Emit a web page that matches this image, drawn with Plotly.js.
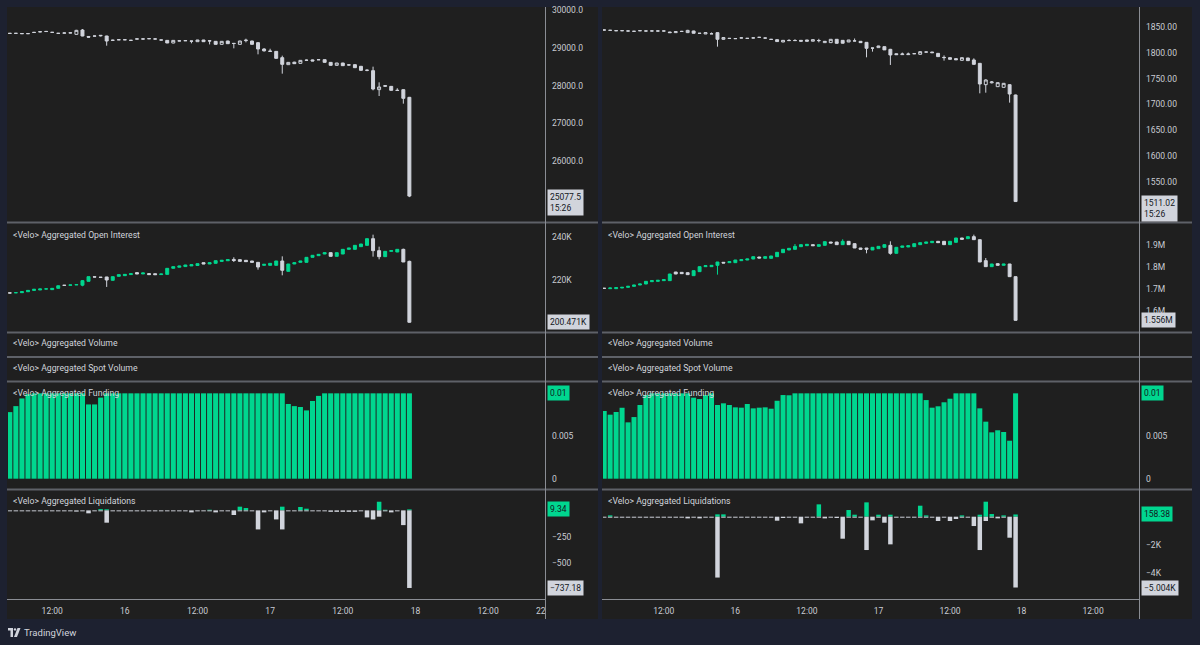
<!DOCTYPE html>
<html><head><meta charset="utf-8">
<script src="https://cdn.plot.ly/plotly-3.0.1.min.js"></script>
<style>html,body{margin:0;padding:0;background:#1d2130;}#chart{width:1200px;height:645px;}</style>
</head><body><div id="chart"></div>
<script>
// ---------- DATA ----------
const hourStartL = 5, hourStartR = 2; // hourly bars, hours counted from 15 00:00
const tickHoursL = [12, 24, 36, 48, 60, 72, 84, 92.7];
const tickTextL = ['12:00', '16', '12:00', '17', '12:00', '18', '12:00', '22'];
const tickHoursR = [12, 24, 36, 48, 60, 72, 84];
const tickTextR = ['12:00', '16', '12:00', '17', '12:00', '18', '12:00'];

const priceTicksL = [26000, 27000, 28000, 29000, 30000];
const priceTicksR = [1550, 1600, 1650, 1700, 1750, 1800, 1850];
const oiTicksL = [220, 240], oiTickTextL = ['220K', '240K'];
const oiTicksR = [1.6, 1.7, 1.8, 1.9], oiTickTextR = ['1.6M', '1.7M', '1.8M', '1.9M'];
const fundTicks = [0, 0.005], fundTickText = ['0', '0.005'];
const liqTicksL = [-250, -500], liqTickTextL = ['−250', '−500'];
const liqTicksR = [-2000, -4000], liqTickTextR = ['−2K', '−4K'];

// Left: BTC price
const priceOpenL = [29385,29382,29378,29374,29404,29420,29430,29410,29384,29388,29392,29356,29471,29300,29312,29316,29312,29196,29210,29214,29196,29230,29236,29240,29232,29204,29197,29127,29180,29186,29180,29162,29206,29186,29171,29092,29180,29118,29092,29190,29180,29136,28968,28915,28906,28739,28554,28620,28589,28668,28680,28686,28686,28615,28536,28598,28545,28554,28510,28404,28395,27893,27980,27980,27870,27892,27690];
const priceHighL = [29392,29388,29384,29380,29420,29440,29446,29416,29390,29402,29410,29475,29497,29312,29318,29334,29318,29215,29218,29220,29202,29246,29242,29246,29248,29210,29200,29200,29195,29200,29184,29210,29210,29206,29176,29176,29186,29122,29185,29241,29186,29150,28990,28975,28912,28792,28620,28630,28675,28690,28690,28690,28690,28620,28600,28602,28570,28560,28520,28430,28501,28086,28010,27990,27930,27900,27700];
const priceLowL = [29378,29376,29370,29368,29396,29412,29428,29404,29378,29386,29390,29350,29305,29270,29306,29300,29056,29180,29206,29208,29190,29228,29230,29236,29228,29200,29125,29120,29178,29184,29118,29158,29158,29090,29088,29088,29105,28986,29088,29144,29088,28827,28900,28890,28715,28316,28548,28575,28585,28650,28648,28680,28610,28530,28530,28520,28530,28470,28390,28380,27875,27725,27975,27870,27865,27522,25050];
const priceCloseL = [29380,29383,29374,29376,29408,29426,29433,29408,29382,29392,29396,29462,29312,29282,29310,29328,29180,29200,29214,29212,29198,29236,29232,29242,29234,29208,29127,29197,29184,29190,29176,29206,29162,29182,29092,29171,29109,29114,29180,29200,29092,28968,28920,28906,28721,28562,28615,28580,28668,28672,28651,28684,28615,28536,28598,28527,28548,28474,28404,28406,27910,27963,27998,27875,27875,27663,25077.5];

// Left: open interest (thousands)
const oiOpenL = [214.05,214.1,214.15,214.6,215.2,215.4,215.85,215.55,216.15,217.58,217.6,217.75,217.6,219.4,221.45,221.3,221.4,219.85,221.7,222.0,222.5,223.4,222.8,222.95,222.9,222.5,222.6,225.4,225.9,226.2,226.5,226.7,228.0,227.4,227.7,228.6,228.9,229.5,229.4,229.09,228.78,228.16,226.78,226.78,226.78,228.78,224.0,227.4,228.16,228.16,230.47,231.24,232.01,232.63,230.93,232.01,234.17,234.17,235.4,236.0,239.09,233.55,230.78,233.24,232.93,234.17,228.62];
const oiHighL = [214.1,214.2,214.65,215.25,215.75,215.9,215.95,216.2,217.4,217.62,217.75,217.9,220.0,221.55,221.5,221.35,221.45,221.6,222.5,222.65,222.95,223.6,223.3,223.0,222.95,222.8,225.4,226.2,226.5,227.0,227.1,227.6,228.05,228.05,228.95,229.1,229.4,230.5,229.45,229.1,228.8,228.2,227.25,227.7,228.8,230.93,227.4,228.05,228.8,230.5,231.4,231.9,232.65,232.65,232.65,234.2,234.8,236.05,236.65,239.1,240.94,235.4,233.3,233.6,234.2,234.47,228.9];
const oiLowL = [213.95,214.05,214.1,214.55,215.15,215.35,215.8,215.5,216.1,217.5,217.55,217.7,217.1,219.35,221.35,221.2,216.8,219.8,221.65,221.95,222.45,222.75,222.75,222.45,222.45,222.45,222.55,225.35,225.85,226.15,226.45,226.65,227.35,227.35,227.65,228.55,228.85,228.3,228.6,228.45,228.15,224.77,226.7,226.75,226.75,222.16,223.95,227.35,228.1,228.1,230.45,231.2,231.95,230.9,230.9,231.95,234.1,234.1,235.35,235.95,230.78,229.55,230.75,233.2,232.9,228.3,200.3];
const oiCloseL = [214.0,214.15,214.6,215.2,215.7,215.85,215.9,216.15,217.35,217.52,217.7,217.85,219.7,221.54,221.38,221.22,220.0,221.54,222.47,222.6,222.9,222.8,223.24,222.5,222.47,222.77,225.39,226.16,226.47,226.93,227.08,227.55,227.4,228.0,228.93,229.09,229.39,229.0,228.62,228.47,228.16,226.0,227.24,227.7,228.78,224.47,227.39,228.01,228.78,230.47,231.4,231.86,232.63,230.93,232.63,234.17,234.78,236.01,236.63,239.09,233.55,230.78,233.24,233.55,234.17,228.32,200.471];

// Left: funding
const fundingL = [0.0078,0.0085,0.0094,0.0099,0.01,0.01,0.01,0.01,0.01,0.01,0.01,0.01,0.01,0.0087,0.0087,0.0095,0.01,0.01,0.01,0.01,0.01,0.01,0.01,0.01,0.01,0.01,0.01,0.01,0.01,0.01,0.01,0.01,0.01,0.01,0.01,0.01,0.01,0.01,0.01,0.01,0.01,0.01,0.01,0.01,0.01,0.01,0.00875,0.0085,0.0084,0.0080,0.0091,0.0097,0.01,0.01,0.01,0.01,0.01,0.01,0.01,0.01,0.01,0.01,0.01,0.01,0.01,0.01,0.01];

// Left: liquidations (longs negative, shorts positive)
const liqPosL = [0,0,0,0,0,0,0,0,0,0,0,0,0,0,0,12,10,0,0,0,0,0,0,0,0,0,0,0,0,0,0,0,0,6,0,0,0,0,35,22,0,0,0,0,0,35,0,0,32,16,0,0,0,0,0,0,0,0,0,0,0,82,6,0,0,0,9.34];
const liqNegL = [-9,-9,-9,-9,-9,-9,-9,-9,-9,-9,-9,-12,-9,-28,-9,-9,-117,-9,-9,-9,-9,-9,-9,-9,-9,-9,-9,-9,-9,-9,-19,-9,-9,-9,-19,-9,-9,-44,-9,-9,-9,-181,-19,-9,-86,-181,-9,-9,-9,-9,-9,-9,-9,-14,-14,-14,-14,-14,-9,-67,-86,-60,-9,-19,-9,-140,-737.18];

// Right: ETH price
const priceOpenR = [1844.8,1844.2,1843.5,1843.3,1842.9,1842.3,1843.2,1842.9,1842.8,1842.9,1842.7,1840.8,1839.6,1841.8,1839.6,1842.8,1838.4,1837.0,1837.2,1839.6,1826.6,1828.5,1827.9,1829.2,1828.5,1829.2,1830.5,1829.2,1826.6,1825.9,1821.4,1824.0,1824.0,1824.6,1825.3,1822.9,1824.0,1820.1,1820.1,1826.6,1824.6,1821.4,1823.3,1822.7,1820.7,1809.7,1810.4,1812.3,1807.1,1798.5,1796.8,1796.8,1798.7,1797.4,1801.9,1801.9,1799.3,1791.5,1790.9,1789.0,1785.7,1790.3,1786.4,1779.9,1738.4,1742.0,1734.5,1733.2,1738.4,1718.3];
const priceHighR = [1845.2,1844.6,1843.9,1843.7,1843.2,1842.6,1844.2,1843.3,1843.2,1843.3,1843.1,1841.0,1841.7,1843.0,1845.0,1843.2,1838.8,1839.8,1839.8,1840.0,1830.5,1829.0,1828.3,1830.2,1828.9,1829.6,1830.8,1829.6,1827.0,1826.3,1824.8,1826.8,1826.8,1824.8,1825.5,1826.0,1827.6,1822.9,1826.8,1827.0,1824.8,1825.4,1828.2,1823.0,1821.0,1810.0,1814.0,1812.6,1808.0,1799.0,1800.8,1800.8,1799.0,1802.8,1802.2,1802.0,1799.6,1795.3,1791.2,1789.3,1791.0,1790.6,1789.6,1780.2,1748.8,1745.5,1742.5,1741.5,1738.8,1719.0];
const priceLowR = [1844.4,1843.8,1843.0,1842.9,1842.5,1841.9,1843.1,1842.5,1842.5,1842.5,1842.4,1839.4,1839.3,1841.6,1838.8,1838.1,1838.0,1836.8,1837.0,1812.3,1826.0,1828.0,1827.5,1829.0,1828.1,1828.8,1830.2,1828.8,1826.2,1822.0,1821.0,1823.8,1823.8,1822.7,1822.7,1822.7,1820.7,1819.9,1819.9,1818.6,1818.8,1821.2,1823.0,1820.0,1791.6,1802.6,1810.2,1805.8,1776.7,1796.6,1796.6,1796.6,1798.4,1797.2,1801.6,1800.4,1792.7,1785.1,1787.5,1786.5,1785.5,1785.0,1777.7,1721.5,1722.8,1740.8,1734.3,1733.0,1703.4,1510.5];
const priceCloseR = [1844.6,1844.0,1843.3,1843.4,1842.7,1842.1,1843.4,1842.7,1842.9,1842.7,1842.8,1839.6,1841.5,1842.0,1844.0,1838.3,1838.2,1839.6,1837.4,1826.6,1830.0,1828.3,1828.0,1829.3,1828.4,1829.3,1830.4,1829.0,1826.4,1822.2,1824.6,1824.4,1824.3,1823.0,1822.9,1825.9,1824.2,1822.7,1826.6,1818.8,1819.0,1825.3,1823.5,1820.1,1809.1,1809.5,1813.6,1806.0,1796.1,1796.8,1798.0,1798.0,1798.6,1802.6,1801.8,1800.6,1792.9,1791.0,1787.7,1786.8,1790.9,1785.1,1777.9,1739.7,1747.5,1743.6,1742.3,1741.0,1720.2,1511.02];

// Right: open interest (millions)
const oiOpenR = [1.7025,1.7006,1.7006,1.7037,1.7067,1.7113,1.7174,1.7219,1.7326,1.7341,1.7372,1.7372,1.7767,1.7752,1.7737,1.7600,1.7783,1.8011,1.8011,1.8072,1.8209,1.8193,1.8193,1.8285,1.8315,1.8361,1.8452,1.8391,1.8391,1.8467,1.8650,1.8772,1.8802,1.8924,1.8970,1.9015,1.8939,1.8985,1.9137,1.9137,1.9015,1.9168,1.9061,1.8863,1.8863,1.8772,1.8833,1.8894,1.8985,1.8620,1.8894,1.8909,1.8924,1.9015,1.9076,1.9107,1.9168,1.9168,1.9015,1.9122,1.9320,1.9289,1.9381,1.9244,1.8285,1.8011,1.8148,1.8072,1.8133,1.7554];
const oiHighR = [1.7030,1.7040,1.7055,1.7070,1.7115,1.7176,1.7222,1.7343,1.7375,1.7390,1.7420,1.7680,1.7770,1.7755,1.7740,1.7830,1.8015,1.8060,1.8075,1.8226,1.8212,1.8242,1.8318,1.8332,1.8363,1.8470,1.8455,1.8470,1.8500,1.8667,1.8805,1.8850,1.9046,1.9018,1.9032,1.9018,1.9018,1.9155,1.9140,1.9140,1.9260,1.9170,1.9065,1.8866,1.8866,1.8897,1.8942,1.9017,1.9168,1.8895,1.8956,1.8972,1.9062,1.9108,1.9138,1.9170,1.9170,1.9170,1.9170,1.9322,1.9322,1.9383,1.9472,1.9246,1.8406,1.8135,1.8150,1.8135,1.8135,1.7560];
const oiLowR = [1.7015,1.7000,1.7000,1.7030,1.7060,1.7110,1.7170,1.7215,1.7320,1.7335,1.7365,1.7365,1.7670,1.7690,1.7645,1.7595,1.7780,1.8005,1.8005,1.7646,1.8175,1.8190,1.8190,1.8280,1.8310,1.8355,1.8405,1.8385,1.8385,1.8460,1.8645,1.8765,1.8795,1.8920,1.8965,1.8968,1.8935,1.8980,1.9090,1.9013,1.9010,1.9013,1.8862,1.8800,1.8620,1.8770,1.8830,1.8890,1.8559,1.8615,1.8890,1.8905,1.8920,1.9010,1.9070,1.9100,1.9105,1.9013,1.9010,1.9118,1.9257,1.9285,1.9242,1.8222,1.8010,1.8005,1.8070,1.8068,1.7550,1.5555];
const oiCloseR = [1.7020,1.7037,1.7052,1.7067,1.7113,1.7174,1.7219,1.7341,1.7372,1.7387,1.7417,1.7676,1.7676,1.7691,1.7646,1.7828,1.8011,1.8056,1.8072,1.8224,1.8178,1.8239,1.8315,1.8330,1.8361,1.8467,1.8406,1.8467,1.8498,1.8665,1.8802,1.8848,1.8939,1.9015,1.9031,1.8970,1.9015,1.9152,1.9091,1.9015,1.9168,1.9015,1.8863,1.8802,1.8802,1.8894,1.8939,1.9015,1.8620,1.8894,1.8954,1.8970,1.9061,1.9107,1.9137,1.9168,1.9107,1.9015,1.9168,1.9320,1.9259,1.9381,1.9244,1.8224,1.8011,1.8133,1.8072,1.8133,1.7554,1.556];

// Right: funding
const fundingR = [0.00793,0.0075,0.00781,0.00831,0.0066,0.00722,0.00863,0.0098,0.01,0.01,0.01,0.01,0.01,0.01,0.01,0.00949,0.00933,0.0098,0.01,0.00863,0.00883,0.00863,0.00836,0.00832,0.00875,0.00824,0.00832,0.00836,0.0082,0.00913,0.0098,0.00977,0.01,0.01,0.01,0.01,0.01,0.01,0.01,0.01,0.01,0.01,0.01,0.01,0.01,0.01,0.01,0.01,0.01,0.01,0.01,0.01,0.01,0.01,0.00921,0.00832,0.00848,0.00895,0.00937,0.01,0.01,0.01,0.01,0.00824,0.00668,0.00543,0.00567,0.00547,0.00445,0.01];

// Right: liquidations
const liqPosR = [0,94,0,0,0,0,0,0,0,0,0,0,0,0,0,0,0,0,0,165,165,0,0,0,0,0,0,0,0,0,0,0,0,0,0,0,872,0,0,0,0,471,141,0,1013,0,141,0,141,0,0,0,0,777,94,0,0,0,0,0,94,0,0,141,1060,188,0,94,0,158.38];
const liqNegR = [-70,-70,-70,-70,-70,-70,-70,-70,-70,-70,-70,-70,-70,-70,-118,-70,-118,-70,-70,-4300,-70,-70,-70,-70,-70,-70,-70,-70,-70,-283,-94,-70,-70,-471,-70,-70,-70,-118,-70,-94,-1555,-70,-70,-70,-2356,-259,-70,-424,-1955,-70,-70,-70,-70,-70,-70,-70,-306,-70,-306,-165,-70,-70,-660,-2356,-306,-70,-118,-70,-1484,-5004];

const paneTitles = ['<Velo> Aggregated Open Interest', '<Velo> Aggregated Volume', '<Velo> Aggregated Spot Volume', '<Velo> Aggregated Funding', '<Velo> Aggregated Liquidations'];
const countdown = '15:26';

// ---------- BUILD ----------
const W = 1200, H = 645;
const PX = x => x / W, PY = y => 1 - y / H;
const dom = (top, bottom) => [PY(bottom), PY(top)];
const hoursL = priceOpenL.map((_, i) => hourStartL + i);
const hoursR = priceOpenR.map((_, i) => hourStartR + i);

const PANE = '#1f1f1f', OUTER = '#1d2130', GREEN = '#00d68f', WHITE = '#d1d4dc', TXT = '#c9ccd3';
const FONT = 'Roboto, "Noto Sans", sans-serif';

function candle(x, o, h, l, c, xa, ya, upFill, upLine) {
  return {type: 'candlestick', x, open: o, high: h, low: l, close: c, xaxis: xa, yaxis: ya,
    increasing: {fillcolor: upFill, line: {color: upLine, width: 1}},
    decreasing: {fillcolor: WHITE, line: {color: WHITE, width: 1}},
    whiskerwidth: 0, hoverinfo: 'skip', showlegend: false};
}
function bars(x, y, xa, ya, color, width) {
  return {type: 'bar', x, y, xaxis: xa, yaxis: ya, width, marker: {color, line: {width: 0}}, hoverinfo: 'skip', showlegend: false};
}

const traces = [
  candle(hoursL, priceOpenL, priceHighL, priceLowL, priceCloseL, 'x', 'y', PANE, WHITE),
  candle(hoursL, oiOpenL, oiHighL, oiLowL, oiCloseL, 'x', 'y2', GREEN, GREEN),
  bars(hoursL, fundingL, 'x', 'y3', GREEN, 0.84),
  bars(hoursL, liqPosL, 'x', 'y4', GREEN, 0.75),
  bars(hoursL, liqNegL, 'x', 'y4', WHITE, 0.75),
  candle(hoursR, priceOpenR, priceHighR, priceLowR, priceCloseR, 'x2', 'y5', PANE, WHITE),
  candle(hoursR, oiOpenR, oiHighR, oiLowR, oiCloseR, 'x2', 'y6', GREEN, GREEN),
  bars(hoursR, fundingR, 'x2', 'y7', GREEN, 0.84),
  bars(hoursR, liqPosR, 'x2', 'y8', GREEN, 0.75),
  bars(hoursR, liqNegR, 'x2', 'y8', WHITE, 0.75),
];

const tickFont = {family: FONT, size: 8.5, color: TXT};
function yax(domain, range, xa, extra) {
  return Object.assign({domain, range, anchor: xa, side: 'right', showgrid: false, zeroline: false, showline: false,
    ticks: '', ticklabelstandoff: 6, tickfont: tickFont, fixedrange: true}, extra);
}
function xax(domain, range, ya, tv, tt) {
  return {domain, range, anchor: ya, showgrid: false, zeroline: false, showline: false, ticks: '',
    tickvals: tv, ticktext: tt, tickfont: tickFont, ticklabelstandoff: 5, rangeslider: {visible: false}, fixedrange: true};
}

const P_PRICE = dom(8, 221), P_OI = dom(224, 331), P_FUND = dom(383, 488), P_LIQ = dom(491, 599);

const layout = {
  width: W, height: H, margin: {l: 0, r: 0, t: 0, b: 0},
  paper_bgcolor: OUTER, plot_bgcolor: PANE, showlegend: false, hovermode: false,
  barmode: 'overlay', font: {family: FONT, color: TXT},
  xaxis: xax([PX(8), PX(545)], [4.7, 93.4], 'y4', tickHoursL, tickTextL),
  xaxis2: xax([PX(603), PX(1139)], [1.8, 91.7], 'y8', tickHoursR, tickTextR),
  yaxis: yax(P_PRICE, [24418, 30053], 'x', {tickvals: priceTicksL, ticktext: priceTicksL.map(v => v.toFixed(1))}),
  yaxis2: yax(P_OI, [196.44, 245.87], 'x', {tickvals: oiTicksL, ticktext: oiTickTextL}),
  yaxis3: yax(P_FUND, [-0.00109, 0.01121], 'x', {tickvals: fundTicks, ticktext: fundTickText}),
  yaxis4: yax(P_LIQ, [-842, 184], 'x', {tickvals: liqTicksL, ticktext: liqTickTextL}),
  yaxis5: yax(P_PRICE, [1473.2, 1887.5], 'x2', {tickvals: priceTicksR, ticktext: priceTicksR.map(v => v.toFixed(2))}),
  yaxis6: yax(P_OI, [1.5073, 1.9959], 'x2', {tickvals: oiTicksR, ticktext: oiTickTextR}),
  yaxis7: yax(P_FUND, [-0.00109, 0.01121], 'x2', {tickvals: fundTicks, ticktext: fundTickText}),
  yaxis8: yax(P_LIQ, [-5816, 1816], 'x2', {tickvals: liqTicksR, ticktext: liqTickTextR}),
  shapes: [], annotations: []
};

// backgrounds, separators
const charts = [{x0: 7, x1: 598, ax: 545.5, plotL: 8}, {x0: 602, x1: 1192, ax: 1139.5, plotL: 603}];
const SEP = '#5e6168';
charts.forEach(c => {
  layout.shapes.push({type: 'rect', xref: 'paper', yref: 'paper', x0: PX(c.x0), x1: PX(c.x1), y0: PY(619), y1: PY(7), fillcolor: PANE, line: {width: 0}, layer: 'below'});
  [222.5, 332.5, 357, 381.5, 489.5].forEach(y => layout.shapes.push({type: 'line', xref: 'paper', yref: 'paper', x0: PX(c.x0), x1: PX(c.x1), y0: PY(y), y1: PY(y), line: {color: SEP, width: 2}, layer: 'above'}));
  layout.shapes.push({type: 'line', xref: 'paper', yref: 'paper', x0: PX(c.x0), x1: PX(c.ax), y0: PY(599.5), y1: PY(599.5), line: {color: '#8a8d94', width: 1}, layer: 'above'});
  layout.shapes.push({type: 'line', xref: 'paper', yref: 'paper', x0: PX(c.ax), x1: PX(c.ax), y0: PY(619), y1: PY(7), line: {color: '#8a8d94', width: 1}, layer: 'above'});
  [235, 343, 368, 393, 501].forEach((y, i) => layout.annotations.push({xref: 'paper', yref: 'paper', x: PX(c.plotL + 3), y: PY(y), xanchor: 'left', yanchor: 'middle', text: paneTitles[i].replace(/</g, '&lt;').replace(/>/g, '&gt;'), showarrow: false, font: {family: FONT, size: 8.7, color: '#d1d4dc'}}));
});

// last value labels
function lastLabel(text, yref, y, bg, xpx, two) {
  layout.annotations.push({xref: 'paper', x: PX(xpx), xanchor: 'left', yref, y, yanchor: two ? 'top' : 'middle', yshift: two ? 7 : 0,
    text, align: 'left', showarrow: false, bgcolor: bg, borderpad: 2, font: {family: FONT, size: 8.5, color: '#131722'}});
}
const last = a => a[a.length - 1];
const fmtNeg = s => s.replace('-', '−');
lastLabel(last(priceCloseL).toFixed(1) + '<br>' + countdown, 'y', last(priceCloseL), WHITE, 546.5, true);
lastLabel(last(oiCloseL).toFixed(3) + 'K', 'y2', last(oiCloseL), WHITE, 546.5);
lastLabel(String(+last(fundingL).toFixed(4)), 'y3', last(fundingL), GREEN, 546.5);
lastLabel(last(liqPosL).toFixed(2), 'y4', last(liqPosL), GREEN, 546.5);
lastLabel(fmtNeg(last(liqNegL).toFixed(2)), 'y4', last(liqNegL), WHITE, 546.5);
lastLabel(last(priceCloseR).toFixed(2) + '<br>' + countdown, 'y5', last(priceCloseR), WHITE, 1140.5, true);
lastLabel(last(oiCloseR).toFixed(3) + 'M', 'y6', last(oiCloseR), WHITE, 1140.5);
lastLabel(String(+last(fundingR).toFixed(4)), 'y7', last(fundingR), GREEN, 1140.5);
lastLabel(last(liqPosR).toFixed(2), 'y8', last(liqPosR), GREEN, 1140.5);
lastLabel(fmtNeg((last(liqNegR) / 1000).toFixed(3)) + 'K', 'y8', last(liqNegR), WHITE, 1140.5);

// TradingView logo
layout.shapes.push({type: 'path', xref: 'paper', yref: 'paper', path: `M ${PX(8)} ${PY(628)} L ${PX(13)} ${PY(628)} L ${PX(13)} ${PY(637)} L ${PX(10.5)} ${PY(637)} L ${PX(10.5)} ${PY(630.5)} L ${PX(8)} ${PY(630.5)} Z`, fillcolor: '#d1d4dc', line: {width: 0}});
layout.shapes.push({type: 'circle', xref: 'paper', yref: 'paper', x0: PX(13.8), x1: PX(16.2), y0: PY(630.6), y1: PY(628.2), fillcolor: '#d1d4dc', line: {width: 0}});
layout.shapes.push({type: 'path', xref: 'paper', yref: 'paper', path: `M ${PX(17.5)} ${PY(628)} L ${PX(20.5)} ${PY(628)} L ${PX(17)} ${PY(637)} L ${PX(14)} ${PY(637)} Z`, fillcolor: '#d1d4dc', line: {width: 0}});
layout.annotations.push({xref: 'paper', yref: 'paper', x: PX(22), y: PY(632.5), xanchor: 'left', yanchor: 'middle', text: 'TradingView', showarrow: false, font: {family: FONT, size: 9.5, color: '#d1d4dc'}});

Plotly.newPlot('chart', traces, layout, {displayModeBar: false, staticPlot: true});
</script></body></html>
